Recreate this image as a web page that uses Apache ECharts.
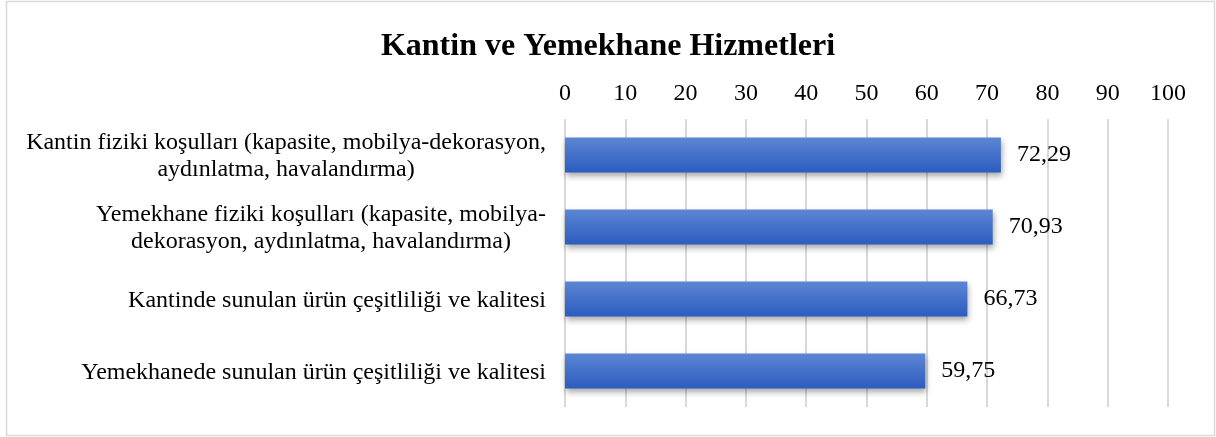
<!DOCTYPE html>
<html>
<head>
<meta charset="utf-8">
<script src="https://cdn.jsdelivr.net/npm/echarts@6/dist/echarts.min.js"></script>
<style>
  html, body { margin: 0; padding: 0; background: #fff; }
  #chart { width: 1216px; height: 437px; }
</style>
</head>
<body>
<div id="chart"></div>
<script>
// veriler
var categories = [
    'Kantin fiziki koşulları (kapasite, mobilya-dekorasyon,\naydınlatma, havalandırma)',
    'Yemekhane fiziki koşulları (kapasite, mobilya-\ndekorasyon, aydınlatma, havalandırma)',
    'Kantinde sunulan ürün çeşitliliği ve kalitesi',
    'Yemekhanede sunulan ürün çeşitliliği ve kalitesi'
];
var values = [72.29, 70.93, 66.73, 59.75];
var tickMin = 0, tickMax = 100, tickStep = 10;

var serif = '"Liberation Serif", "DejaVu Serif", serif';
var myChart = echarts.init(document.getElementById('chart'));

var option = {
    backgroundColor: '#fff',
    animation: false,
    title: {
        text: 'Kantin ve Yemekhane Hizmetleri',
        left: 'center',
        top: 26,
        textStyle: { fontFamily: serif, fontSize: 32, fontWeight: 'bold', color: '#000' }
    },
    graphic: [{
        type: 'rect',
        shape: { x: 6.5, y: 1.5, width: 1208, height: 434 },
        style: { fill: 'none', stroke: '#d9d9d9', lineWidth: 1.5 },
        silent: true
    }],
    grid: { left: 565, right: 48, top: 119, bottom: 30, containLabel: false },
    xAxis: {
        type: 'value',
        position: 'top',
        min: tickMin,
        max: tickMax,
        interval: tickStep,
        axisLine: { show: false },
        axisTick: { show: false },
        axisLabel: { fontFamily: serif, fontSize: 24, color: '#000', margin: 13 },
        splitLine: { lineStyle: { color: '#d9d9d9', width: 2 } }
    },
    yAxis: {
        type: 'category',
        inverse: true,
        data: categories,
        axisLine: { show: false },
        axisTick: { show: false },
        axisLabel: {
            fontFamily: serif, fontSize: 24, color: '#000', margin: 19, lineHeight: 27,
            align: 'right',
            padding: [3, 0, 0, 0],
            formatter: function (v) {
                return v.split('\n').map(function (l) { return '{c|' + l + '}'; }).join('\n');
            },
            rich: { c: { fontFamily: serif, fontSize: 24, color: '#000', align: 'center', lineHeight: 27 } }
        }
    },
    series: [{
        type: 'bar',
        data: values,
        barWidth: 35,
        itemStyle: {
            color: new echarts.graphic.LinearGradient(0, 0, 0, 1, [
                { offset: 0, color: '#5d86d3' },
                { offset: 1, color: '#2b5cbf' }
            ]),
            shadowColor: 'rgba(0,0,0,0.35)',
            shadowBlur: 6,
            shadowOffsetY: 3,
            shadowOffsetX: 1
        },
        label: {
            show: true,
            position: 'right',
            distance: 16,
            fontFamily: serif,
            fontSize: 24,
            color: '#000',
            formatter: function (p) { return p.value.toFixed(2).replace('.', ','); }
        }
    }]
};
myChart.setOption(option);
</script>
</body>
</html>
